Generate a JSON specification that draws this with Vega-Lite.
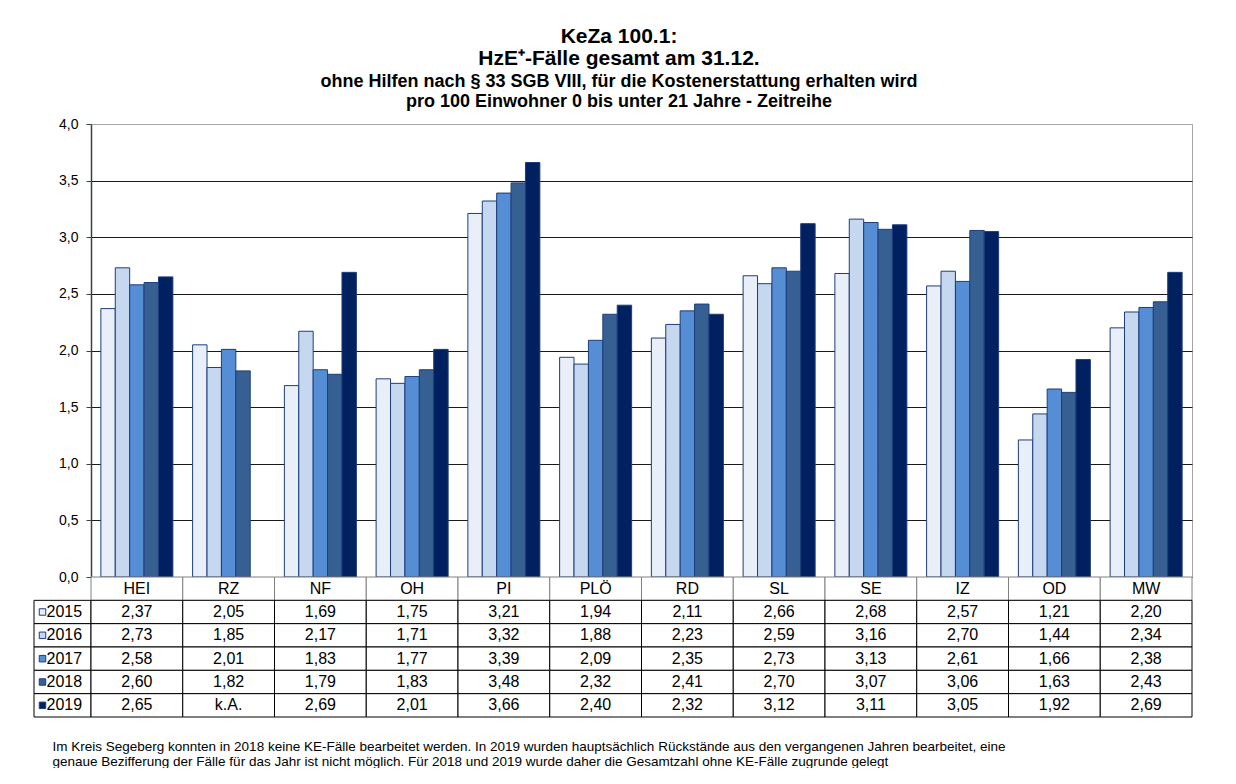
{
  "$schema": "https://vega.github.io/schema/vega-lite/v6.json",
  "padding": {"left": 33, "top": 25, "right": 0, "bottom": 0},
  "background": "white",
  "config": {
    "font": "Liberation Sans",
    "view": {"stroke": null},
    "text": {"font": "Liberation Sans", "color": "black"}
  },
  "datasets": {
    "kz": [
      {"kreis": "HEI", "jahr": "2015", "wert": 2.37}, {"kreis": "HEI", "jahr": "2016", "wert": 2.73}, {"kreis": "HEI", "jahr": "2017", "wert": 2.58}, {"kreis": "HEI", "jahr": "2018", "wert": 2.60}, {"kreis": "HEI", "jahr": "2019", "wert": 2.65},
      {"kreis": "RZ", "jahr": "2015", "wert": 2.05}, {"kreis": "RZ", "jahr": "2016", "wert": 1.85}, {"kreis": "RZ", "jahr": "2017", "wert": 2.01}, {"kreis": "RZ", "jahr": "2018", "wert": 1.82}, {"kreis": "RZ", "jahr": "2019", "wert": null},
      {"kreis": "NF", "jahr": "2015", "wert": 1.69}, {"kreis": "NF", "jahr": "2016", "wert": 2.17}, {"kreis": "NF", "jahr": "2017", "wert": 1.83}, {"kreis": "NF", "jahr": "2018", "wert": 1.79}, {"kreis": "NF", "jahr": "2019", "wert": 2.69},
      {"kreis": "OH", "jahr": "2015", "wert": 1.75}, {"kreis": "OH", "jahr": "2016", "wert": 1.71}, {"kreis": "OH", "jahr": "2017", "wert": 1.77}, {"kreis": "OH", "jahr": "2018", "wert": 1.83}, {"kreis": "OH", "jahr": "2019", "wert": 2.01},
      {"kreis": "PI", "jahr": "2015", "wert": 3.21}, {"kreis": "PI", "jahr": "2016", "wert": 3.32}, {"kreis": "PI", "jahr": "2017", "wert": 3.39}, {"kreis": "PI", "jahr": "2018", "wert": 3.48}, {"kreis": "PI", "jahr": "2019", "wert": 3.66},
      {"kreis": "PLÖ", "jahr": "2015", "wert": 1.94}, {"kreis": "PLÖ", "jahr": "2016", "wert": 1.88}, {"kreis": "PLÖ", "jahr": "2017", "wert": 2.09}, {"kreis": "PLÖ", "jahr": "2018", "wert": 2.32}, {"kreis": "PLÖ", "jahr": "2019", "wert": 2.40},
      {"kreis": "RD", "jahr": "2015", "wert": 2.11}, {"kreis": "RD", "jahr": "2016", "wert": 2.23}, {"kreis": "RD", "jahr": "2017", "wert": 2.35}, {"kreis": "RD", "jahr": "2018", "wert": 2.41}, {"kreis": "RD", "jahr": "2019", "wert": 2.32},
      {"kreis": "SL", "jahr": "2015", "wert": 2.66}, {"kreis": "SL", "jahr": "2016", "wert": 2.59}, {"kreis": "SL", "jahr": "2017", "wert": 2.73}, {"kreis": "SL", "jahr": "2018", "wert": 2.70}, {"kreis": "SL", "jahr": "2019", "wert": 3.12},
      {"kreis": "SE", "jahr": "2015", "wert": 2.68}, {"kreis": "SE", "jahr": "2016", "wert": 3.16}, {"kreis": "SE", "jahr": "2017", "wert": 3.13}, {"kreis": "SE", "jahr": "2018", "wert": 3.07}, {"kreis": "SE", "jahr": "2019", "wert": 3.11},
      {"kreis": "IZ", "jahr": "2015", "wert": 2.57}, {"kreis": "IZ", "jahr": "2016", "wert": 2.70}, {"kreis": "IZ", "jahr": "2017", "wert": 2.61}, {"kreis": "IZ", "jahr": "2018", "wert": 3.06}, {"kreis": "IZ", "jahr": "2019", "wert": 3.05},
      {"kreis": "OD", "jahr": "2015", "wert": 1.21}, {"kreis": "OD", "jahr": "2016", "wert": 1.44}, {"kreis": "OD", "jahr": "2017", "wert": 1.66}, {"kreis": "OD", "jahr": "2018", "wert": 1.63}, {"kreis": "OD", "jahr": "2019", "wert": 1.92},
      {"kreis": "MW", "jahr": "2015", "wert": 2.20}, {"kreis": "MW", "jahr": "2016", "wert": 2.34}, {"kreis": "MW", "jahr": "2017", "wert": 2.38}, {"kreis": "MW", "jahr": "2018", "wert": 2.43}, {"kreis": "MW", "jahr": "2019", "wert": 2.69}
    ]
  },
  "title": {
    "text": ["KeZa 100.1:", "HzE⁺-Fälle gesamt am 31.12."],
    "subtitle": ["ohne Hilfen nach § 33 SGB VIII, für die Kostenerstattung erhalten wird", "pro 100 Einwohner 0 bis unter 21 Jahre - Zeitreihe"],
    "anchor": "middle",
    "dx": 6,
    "fontSize": 21,
    "fontWeight": "bold",
    "lineHeight": 22,
    "color": "black",
    "subtitleFontSize": 18,
    "subtitleFontWeight": "bold",
    "subtitleColor": "black",
    "subtitleLineHeight": 20,
    "subtitlePadding": 4,
    "offset": 6
  },
  "columns": 2,
  "spacing": 0,
  "bounds": "flush",
  "resolve": {"scale": {"x": "independent", "y": "independent", "color": "independent"}},
  "concat": [
    {
      "width": 57,
      "height": 453,
      "data": {"values": [{"t": ""}]},
      "mark": {"type": "text"},
      "encoding": {"text": {"field": "t", "type": "nominal"}}
    },
    {
      "width": 1101,
      "height": 453,
      "view": {"stroke": "#a6a6a6", "strokeWidth": 1},
      "data": {"name": "kz"},
      "mark": {"type": "bar", "stroke": "#1f3d7a", "strokeWidth": 1},
      "encoding": {
        "x": {"field": "kreis", "type": "nominal", "sort": null, "scale": {"paddingInner": 0.215, "paddingOuter": 0.1075}, "axis": null},
        "xOffset": {"field": "jahr", "type": "nominal", "sort": ["2015", "2016", "2017", "2018", "2019"], "scale": {"paddingInner": 0, "paddingOuter": 0}},
        "y": {
          "field": "wert", "type": "quantitative",
          "scale": {"domain": [0, 4], "nice": false, "zero": true},
          "axis": {
            "title": null,
            "values": [0, 0.5, 1, 1.5, 2, 2.5, 3, 3.5, 4],
            "labelExpr": "replace(format(datum.value, '.1f'), '.', ',')",
            "labelFontSize": 14,
            "labelColor": "black",
            "labelPadding": 8,
            "domainColor": "#404040",
            "domainWidth": 1.5,
            "tickColor": "#404040",
            "tickSize": 5,
            "tickWidth": 1,
            "grid": true,
            "gridColor": {"condition": {"test": "datum.value === 4", "value": "#a6a6a6"}, "value": "#1a1a1a"},
            "gridWidth": 1,
            "gridOpacity": 1
          }
        },
        "color": {
          "field": "jahr", "type": "nominal",
          "scale": {"domain": ["2015", "2016", "2017", "2018", "2019"], "range": ["#e9eff9", "#c5d8f0", "#558ed5", "#376092", "#002060"]},
          "legend": null
        }
      }
    },
    {
      "width": 57,
      "height": 140,
      "data": {"name": "kz"},
      "transform": [{"filter": "datum.kreis === 'HEI'"}],
      "title": {
        "text": [
          "Im Kreis Segeberg konnten in 2018 keine KE-Fälle bearbeitet werden. In 2019 wurden hauptsächlich Rückstände aus den vergangenen Jahren bearbeitet, eine",
          "genaue Bezifferung der Fälle für das Jahr ist nicht möglich. Für 2018 und 2019 wurde daher die Gesamtzahl ohne KE-Fälle zugrunde gelegt"
        ],
        "orient": "bottom",
        "anchor": "start",
        "dx": 19,
        "offset": 22,
        "fontSize": 13.5,
        "fontWeight": "normal",
        "lineHeight": 15,
        "color": "black"
      },
      "encoding": {
        "y": {"field": "jahr", "type": "nominal", "scale": {"domain": ["hdr", "2015", "2016", "2017", "2018", "2019"], "paddingInner": 0, "paddingOuter": 0}, "axis": null}
      },
      "layer": [
        {
          "mark": {"type": "rect", "fill": "white", "stroke": "black", "strokeWidth": 1},
          "encoding": {"x": {"value": 0}, "x2": {"value": "width"}}
        },
        {
          "mark": {"type": "point", "shape": "square", "filled": true, "size": 42, "stroke": "#1f3d7a", "strokeWidth": 1, "opacity": 1, "xOffset": -20},
          "encoding": {
            "color": {"field": "jahr", "type": "nominal", "scale": {"domain": ["2015", "2016", "2017", "2018", "2019"], "range": ["#e9eff9", "#c5d8f0", "#558ed5", "#376092", "#002060"]}, "legend": null}
          }
        },
        {
          "mark": {"type": "text", "align": "left", "dx": -16, "fontSize": 16, "baseline": "middle"},
          "encoding": {"text": {"field": "jahr", "type": "nominal"}}
        }
      ]
    },
    {
      "width": 1101,
      "height": 140,
      "data": {"name": "kz"},
      "transform": [{"calculate": "datum.wert == null ? 'k.A.' : replace(format(datum.wert, '.2f'), '.', ',')", "as": "lab"}],
      "encoding": {
        "x": {"field": "kreis", "type": "nominal", "sort": null, "scale": {"paddingInner": 0, "paddingOuter": 0}, "axis": null}
      },
      "layer": [
        {
          "transform": [{"filter": "datum.jahr === '2015'"}],
          "mark": {"type": "rect", "fill": "white", "stroke": "#808080", "strokeWidth": 1},
          "encoding": {"y": {"datum": "hdr", "type": "nominal", "scale": {"domain": ["hdr", "2015", "2016", "2017", "2018", "2019"], "paddingInner": 0, "paddingOuter": 0}, "axis": null}}
        },
        {
          "mark": {"type": "rect", "fill": "white", "stroke": "black", "strokeWidth": 1},
          "encoding": {"y": {"field": "jahr", "type": "nominal"}}
        },
        {
          "transform": [{"filter": "datum.jahr === '2015'"}],
          "mark": {"type": "text", "fontSize": 16, "baseline": "middle"},
          "encoding": {"y": {"datum": "hdr", "type": "nominal"}, "text": {"field": "kreis", "type": "nominal"}}
        },
        {
          "mark": {"type": "text", "fontSize": 16, "baseline": "middle"},
          "encoding": {"y": {"field": "jahr", "type": "nominal"}, "text": {"field": "lab", "type": "nominal"}}
        }
      ]
    }
  ]
}
